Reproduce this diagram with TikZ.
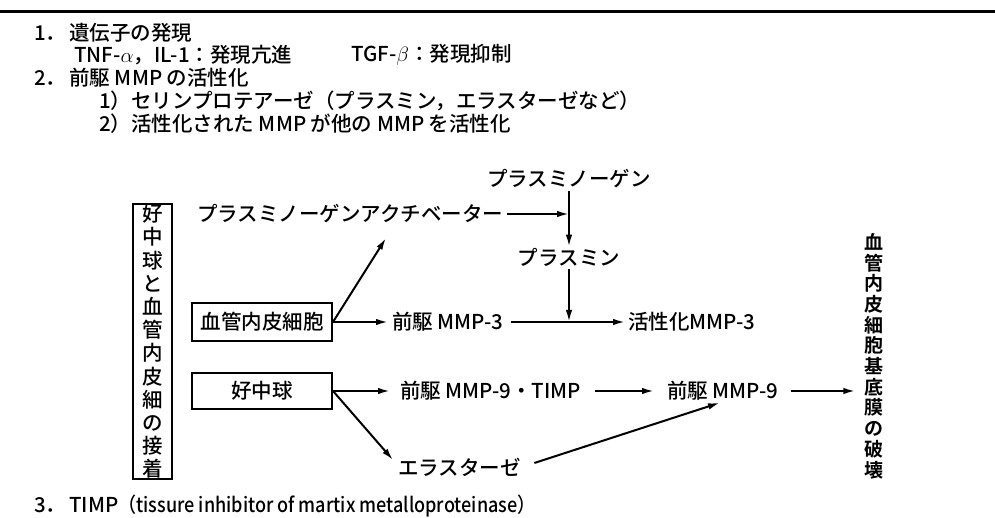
\documentclass[tikz,border=0pt]{standalone}
\usepackage{fontspec}
\usepackage{graphicx}
\setmainfont{Noto Sans CJK JP Medium}[BoldFont={Noto Sans CJK JP Bold}]
\usetikzlibrary{arrows.meta}
\newcommand\dfont{\fontsize{20.5}{23}\selectfont}
\newcommand\vfont{\fontsize{20.5}{23.2}\selectfont}
\newcommand\rfont{\fontsize{19}{20.7}\selectfont}
\tikzset{
  boxn/.style={draw, line width=2pt, minimum width=140pt, inner sep=0pt},
  arr/.style={line width=2pt, -{Latex[length=12pt,width=6.5pt]}},
}
\begin{document}
\begin{tikzpicture}[x=1pt,y=-1pt, every node/.style={font=\dfont, inner sep=1pt}]
\useasboundingbox (0,0) rectangle (995,518);
\fill[white] (0,0) rectangle (995,518);
\draw[line width=3pt] (0,12) -- (995,12);

% header
\node[anchor=west] (h1) at (33,33) {1．\hspace{3pt}遺伝子の発現};
\node[anchor=west] (h2a) at (73,55) {TNF-$\alpha$，IL-1：発現亢進};
\node[anchor=west] (h2b) at (350,55) {TGF-$\beta$：発現抑制};
\node[anchor=west] (h3) at (33,78) {2．\hspace{3pt}前駆 MMP の活性化};
\node[anchor=west] (h4) at (98,101) {1）セリンプロテアーゼ（プラスミン，エラスターゼなど）};
\node[anchor=west] (h5) at (98,124) {2）活性化された MMP が他の MMP を活性化};

% diagram
\node (plg) at (569,179) {プラスミノーゲン};
\node[anchor=west] (pa) at (196,214) {プラスミノーゲンアクチベーター};
\node (pls) at (569,257) {プラスミン};
\node[boxn, minimum height=38pt] (ec) at (262,322) {血管内皮細胞};
\node[anchor=west] (pm3) at (391,322) {前駆 MMP-3};
\node[anchor=west] (am3) at (627,322) {活性化MMP-3};
\node[boxn, minimum height=36pt] (neu) at (262,391) {好中球};
\node[anchor=west] (pm9t) at (399,391) {前駆 MMP-9・TIMP};
\node[anchor=west] (pm9) at (666,391) {前駆 MMP-9};
\node[anchor=west] (ela) at (397,467) {エラスターゼ};
\node[draw, line width=2pt, minimum width=39pt, minimum height=273pt, inner sep=0pt,
      align=center, font=\vfont] (adh) at (152.5,341.5)
      {好\\中\\球\\と\\血\\管\\内\\皮\\細\\の\\接\\着};
\node[align=center, font=\rfont\bfseries] (dest) at (874,356)
      {血\\管\\内\\皮\\細\\胞\\基\\底\\膜\\の\\破\\壊};

\coordinate (t1) at (386,238);
\coordinate (t2) at (393,460);
\coordinate (j) at (pls |- pm3);

\draw[arr, shorten <=3pt] (pa.east) -- (pa.east -| plg);
\draw[arr, shorten <=2pt] (plg) -- (pls);
\draw[arr, shorten <=2pt] (pls) -- (j);
\draw[arr, shorten <=6pt, shorten >=2pt] (pm3) -- (am3);
\draw[arr, shorten >=3pt] (ec) -- (pm3);
\draw[arr] (ec.east) -- (t1);
\draw[arr, shorten >=9pt] (neu) -- (pm9t);
\draw[arr] (neu.east) -- (t2);
\draw[arr, shorten <=13pt, shorten >=12pt] (pm9t) -- (pm9);
\draw[arr, shorten <=11pt, shorten >=8pt] (pm9) -- (pm9 -| dest.west);
\draw[arr, shorten <=13pt, shorten >=3pt] (ela.east) -- (pm9.south);

% footer
\node[anchor=west] (ft) at (33,506) {3．\hspace{3pt}TIMP\scalebox{0.88}[1]{（tissure inhibitor of martix metalloproteinase）}};
\end{tikzpicture}
\end{document}
